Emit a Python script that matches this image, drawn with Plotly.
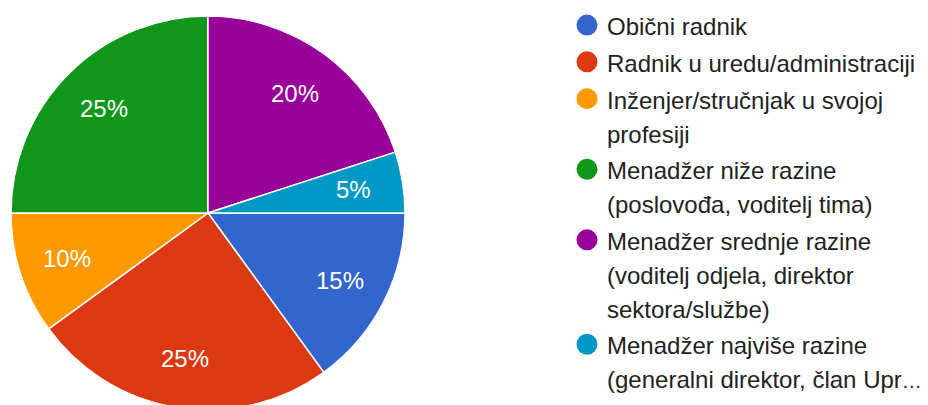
import math
import plotly.graph_objects as go

# Data
labels = [
    "Obični radnik",
    "Radnik u uredu/administraciji",
    "Inženjer/stručnjak u svojoj<br>profesiji",
    "Menadžer niže razine<br>(poslovođa, voditelj tima)",
    "Menadžer srednje razine<br>(voditelj odjela, direktor<br>sektora/službe)",
    'Menadžer najviše razine<br>(generalni direktor, član Upr<span style="font-size:20px">…</span>',
]
shares = [15, 25, 10, 25, 20, 5]
colors = ["#3366cc", "#dc3912", "#ff9900", "#109618", "#990099", "#0099c6"]

# page body has an 8px margin, so the figure is a bit narrower than the window
W, H = 920, 405
pie_top, pie_d = 8, 394
R = pie_d / 2
cx, cy = 200, pie_top + R

fig = go.Figure()

fig.add_trace(go.Pie(
    labels=labels,
    values=shares,
    sort=False,
    direction="clockwise",
    rotation=90,
    marker=dict(colors=colors, line=dict(color="white", width=1.5)),
    textinfo="none",
    domain=dict(x=[0, 2 * cx / W], y=[1 - (pie_top + pie_d) / H, 1 - pie_top / H]),
    showlegend=False,
))

# percentage labels at 3/4 of the radius, on each slice's mid angle
total = sum(shares)
start = 90.0
for v in shares:
    mid = math.radians(start + 360 * v / total / 2)
    start += 360 * v / total
    px_x = cx + 0.75 * R * math.sin(mid)
    px_y = cy - 0.75 * R * math.cos(mid)
    fig.add_annotation(
        x=px_x / W, y=1 - px_y / H, xref="paper", yref="paper",
        xanchor="center", yanchor="middle",
        text=f"{round(100 * v / total)}%", showarrow=False,
        font=dict(family="Arial", size=24, color="white"),
    )

# legend with round markers, one dummy trace per category
for lab, col in zip(labels, colors):
    fig.add_trace(go.Scatter(
        x=[None], y=[None], mode="markers",
        name='<span style="font-size:24px">' + lab + "</span>",
        marker=dict(color=col, size=16, line=dict(color=col, width=5)),
    ))

fig.update_layout(
    width=W, height=H,
    margin=dict(l=0, r=0, t=0, b=0, autoexpand=False),
    paper_bgcolor="white", plot_bgcolor="white",
    font=dict(family="Arial", color="#222222"),
    xaxis=dict(visible=False), yaxis=dict(visible=False),
    legend=dict(
        x=559 / W, y=0.028, xanchor="left", yanchor="bottom",
        valign="top",
        font=dict(size=26, color="#222222"),
        bgcolor="rgba(0,0,0,0)",
    ),
)

fig.write_html("out.html")
